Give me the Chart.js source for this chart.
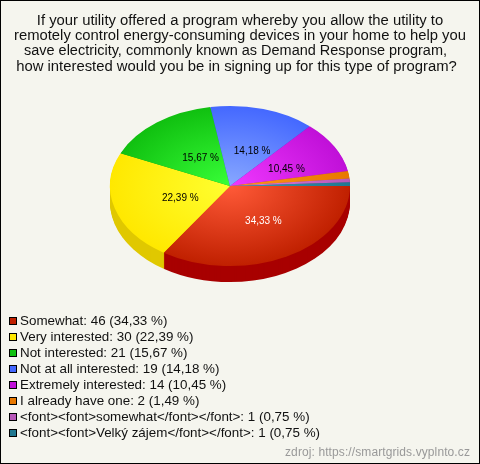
<!DOCTYPE html>
<html>
<head>
<meta charset="utf-8">
<title>Demand Response</title>
<script src="https://cdn.jsdelivr.net/npm/chart.js@4"></script>
<style>
    html, body { margin: 0; padding: 0; background: #f5f5ee; }
    canvas { display: block; }
</style>
</head>
<body>
<div style="width:480px;height:464px"><canvas id="pie" width="480" height="464"></canvas></div>
<script>
const titleLines = [
    "If your utility offered a program whereby you allow the utility to",
    "remotely control energy-consuming devices in your home to help you",
    "save electricity, commonly known as Demand Response program,",
    "how interested would you be in signing up for this type of program?"
];
const categories = ["Somewhat", "Very interested", "Not interested", "Not at all interested",
    "Extremely interested", "I already have one", "<font><font>somewhat</font></font>",
    "<font><font>Velký zájem</font></font>"];
const answers = [46, 30, 21, 19, 14, 2, 1, 1];
const edgeColors = ["#c02000", "#ffe800", "#10c010", "#4468ff", "#c010d8", "#e87800", "#b858b8", "#207890"];
const centerColors = ["#ff5a38", "#ffff30", "#38ff38", "#88a8ff", "#f038ff", "#ff9818", "#e080e0", "#3898b0"];
const sideColors = ["#a80000", "#e0c800", "#0c980c", "#3050d0", "#9c0cb0", "#b85c00", "#904090", "#185c70"];
const source = "zdroj: https://smartgrids.vyplnto.cz";

const total = answers.reduce((a, b) => a + b, 0);
function percent(v) {
    return (v / total * 100).toFixed(2).replace(".", ",") + " %";
}

const FLATTEN = 0.667;  // pie is a tilted circle
const DEPTH = 16;
// last two title lines sit a bit left in the original, third one is also tighter
const TITLE_X = [240, 240, 235.5, 236.5];
const TITLE_FIT = [452, 452, 423, 452];

function sliceGradient(context) {
    let area = context.chart.chartArea;
    if (!area) return edgeColors[context.dataIndex];
    let cx = (area.left + area.right) / 2;
    let cy = (area.top + area.bottom) / 2;
    let g = context.chart.ctx.createRadialGradient(cx, cy, 0, cx, cy, 120);
    g.addColorStop(0, centerColors[context.dataIndex]);
    g.addColorStop(1, edgeColors[context.dataIndex]);
    return g;
}

const tiltPlugin = {
    id: "tilt",
    beforeDraw(chart) {
        let ctx = chart.ctx;
        ctx.save();
        ctx.fillStyle = "#f5f5ee";
        ctx.fillRect(0, 0, 480, 464);
        ctx.strokeStyle = "#000";
        ctx.lineWidth = 1;
        ctx.strokeRect(0.5, 0.5, 479, 463);

        ctx.fillStyle = "#111";
        ctx.font = "14.85px 'Liberation Sans', Arial, sans-serif";
        ctx.textAlign = "center";
        titleLines.forEach(function (line, i) {
            ctx.fillText(line, TITLE_X[i], 25 + i * 15.2, TITLE_FIT[i]);
        });
        ctx.restore();
    },
    beforeDatasetsDraw(chart) {
        let ctx = chart.ctx;
        let arcs = chart.getDatasetMeta(0).data;
        let cy = arcs[0].y;
        // side wall, stacked up from the bottom
        for (let d = DEPTH; d > 0; d--) {
            arcs.forEach(function (arc, i) {
                ctx.save();
                ctx.translate(0, cy + d);
                ctx.scale(1, FLATTEN);
                ctx.beginPath();
                ctx.moveTo(arc.x, 0);
                ctx.arc(arc.x, 0, arc.outerRadius, arc.startAngle, arc.endAngle);
                ctx.closePath();
                ctx.fillStyle = sideColors[i];
                ctx.fill();
                ctx.restore();
            });
        }
        ctx.save();
        ctx.translate(0, cy);
        ctx.scale(1, FLATTEN);
        ctx.translate(0, -cy);
    },
    afterDatasetsDraw(chart) {
        let ctx = chart.ctx;
        ctx.restore();
        let arcs = chart.getDatasetMeta(0).data;

        // percent labels on the bigger slices
        ctx.save();
        ctx.font = "10px 'Liberation Sans', Arial, sans-serif";
        ctx.textAlign = "center";
        ctx.textBaseline = "middle";
        arcs.forEach(function (arc, i) {
            if (answers[i] / total < 0.05) return;
            let mid = (arc.startAngle + arc.endAngle) / 2;
            let x = arc.x + 6 + 58 * Math.cos(mid);
            let y = arc.y + 2 + 38 * Math.sin(mid);
            ctx.fillStyle = i === 0 ? "#fff" : "#000";
            ctx.fillText(percent(answers[i]), x, y);
        });
        ctx.restore();

        // legend list
        ctx.save();
        ctx.font = "13.4px 'Liberation Sans', Arial, sans-serif";
        ctx.textBaseline = "alphabetic";
        categories.forEach(function (name, i) {
            let y = 317 + i * 16;
            ctx.fillStyle = edgeColors[i];
            ctx.fillRect(9.5, y + 0.5, 7, 7);
            ctx.strokeStyle = "#000";
            ctx.lineWidth = 1;
            ctx.strokeRect(9.5, y + 0.5, 7, 7);
            ctx.fillStyle = "#111";
            ctx.fillText(name + ": " + answers[i] + " (" + percent(answers[i]) + ")", 20, y + 8);
        });
        ctx.fillStyle = "#999";
        ctx.letterSpacing = "0.1px";
        ctx.font = "12px 'Liberation Sans', Arial, sans-serif";
        ctx.textAlign = "right";
        ctx.fillText(source, 470, 456);
        ctx.restore();
    }
};

new Chart(document.getElementById("pie"), {
    type: "pie",
    data: {
        labels: categories,
        datasets: [{
            data: answers,
            backgroundColor: sliceGradient,
            borderWidth: 0,
            clip: false
        }]
    },
    options: {
        responsive: false,
        animation: false,
        rotation: 90,
        layout: { padding: { left: 110, right: 130, top: 66, bottom: 158 } },
        plugins: {
            legend: { display: false },
            tooltip: { enabled: false },
            title: { display: false }
        }
    },
    plugins: [tiltPlugin]
});
</script>
</body>
</html>
